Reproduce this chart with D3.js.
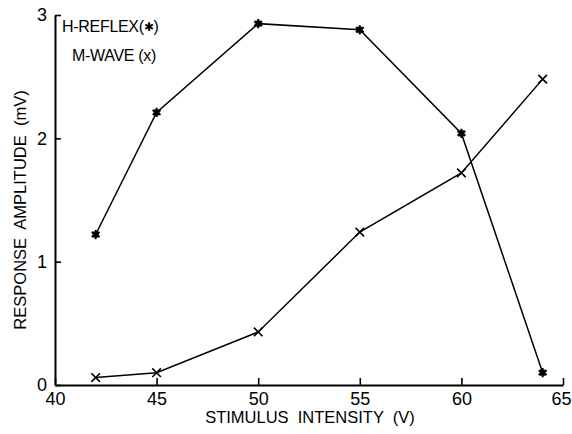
<!DOCTYPE html>
<html>
<head>
<meta charset="utf-8">
<script src="https://cdn.jsdelivr.net/npm/d3@7.9.0/dist/d3.min.js"></script>
<style>
  body { margin: 0; background: #fff; }
  svg { display: block; font-family: "Liberation Sans", Arial, sans-serif; }
  text { fill: #000; }
</style>
</head>
<body>
<div id="chart"></div>
<script>
// stimulus intensities (V)
const intensities = [42, 45, 50, 55, 60, 64];
// response amplitudes (mV)
const hReflex = [1.22, 2.21, 2.93, 2.88, 2.04, 0.10];
const mWave = [0.06, 0.10, 0.43, 1.24, 1.72, 2.48];

const xTicks = [40, 45, 50, 55, 60, 65];
const yTicks = [0, 1, 2, 3];

const width = 572;
const height = 434;

const svg = d3.select('#chart')
  .append('svg')
  .attr('width', width)
  .attr('height', height);

const xScale = d3.scaleLinear().domain([40, 65]).range([55, 563]);
const yScale = d3.scaleLinear().domain([0, 3]).range([385, 15]);

// x axis, ticks pointing up
const xAxis = svg.append('g')
  .attr('transform', `translate(0, ${yScale(0)})`)
  .call(d3.axisBottom(xScale).tickValues(xTicks).tickFormat(d3.format('d'))
    .tickSize(0).tickPadding(7).tickSizeOuter(0));
xAxis.select('.domain').attr('stroke', '#000').attr('stroke-width', 2);
xAxis.selectAll('.tick line').attr('y2', -7).attr('stroke-width', 1.6);
xAxis.selectAll('.tick text').attr('font-size', 18);
// last label sits against the right edge
xAxis.selectAll('.tick text').filter((d) => d === 65).attr('text-anchor', 'end').attr('x', 8);

// y axis, ticks pointing right
const yAxis = svg.append('g')
  .attr('transform', `translate(${xScale(40)}, 0)`)
  .call(d3.axisLeft(yScale).tickValues(yTicks).tickFormat(d3.format('d'))
    .tickSize(0).tickPadding(8).tickSizeOuter(0));
yAxis.select('.domain').attr('stroke', '#000').attr('stroke-width', 2);
yAxis.selectAll('.tick line').attr('x2', 6).attr('stroke-width', 1.6);
yAxis.selectAll('.tick text').attr('font-size', 18);

// axis titles
svg.append('text')
  .attr('x', 310)
  .attr('y', 423)
  .attr('text-anchor', 'middle')
  .attr('font-size', 16.5)
  .style('white-space', 'pre')
  .text('STIMULUS  INTENSITY  (V)');

svg.append('text')
  .attr('transform', `translate(26, 210) rotate(-90)`)
  .attr('text-anchor', 'middle')
  .attr('font-size', 16.5)
  .style('white-space', 'pre')
  .text('RESPONSE  AMPLITUDE  (mV)');

// legend
const leg1 = svg.append('text')
  .attr('x', 62).attr('y', 32)
  .attr('font-size', 16)
  .attr('letter-spacing', -0.3);
leg1.append('tspan').text('H-REFLEX(');
leg1.append('tspan').attr('font-size', 12).attr('dy', -1).text('✱');
leg1.append('tspan').attr('dy', 1).text(')');

svg.append('text')
  .attr('x', 72).attr('y', 61)
  .attr('font-size', 16)
  .attr('letter-spacing', -0.3)
  .text('M-WAVE (x)');

const line = d3.line()
  .x((d) => xScale(d[0]))
  .y((d) => yScale(d[1]));

const series = [
  { name: 'h', values: d3.zip(intensities, hReflex) },
  { name: 'm', values: d3.zip(intensities, mWave) },
];

svg.selectAll('path.series')
  .data(series)
  .join('path')
  .attr('class', 'series')
  .attr('d', (d) => line(d.values))
  .attr('fill', 'none')
  .attr('stroke', '#000')
  .attr('stroke-width', 1.5);

// H-reflex markers: filled asterisk
const starSym = d3.symbol().type(d3.symbolAsterisk).size(60);
svg.append('g')
  .selectAll('g')
  .data(series[0].values)
  .join('g')
  .attr('transform', (d) => `translate(${xScale(d[0])}, ${yScale(d[1])})`)
  .call((g) => {
    g.append('rect').attr('x', -3).attr('y', -3).attr('width', 6).attr('height', 6).attr('fill', '#000');
    g.append('path').attr('d', starSym).attr('stroke', '#000').attr('stroke-width', 2);
  });

// M-wave markers: x
const crossSym = d3.symbol().type(d3.symbolX).size(50);
svg.append('g')
  .selectAll('path')
  .data(series[1].values)
  .join('path')
  .attr('transform', (d) => `translate(${xScale(d[0])}, ${yScale(d[1])})`)
  .attr('d', crossSym)
  .attr('fill', 'none')
  .attr('stroke', '#000')
  .attr('stroke-width', 1.6);
</script>
</body>
</html>
